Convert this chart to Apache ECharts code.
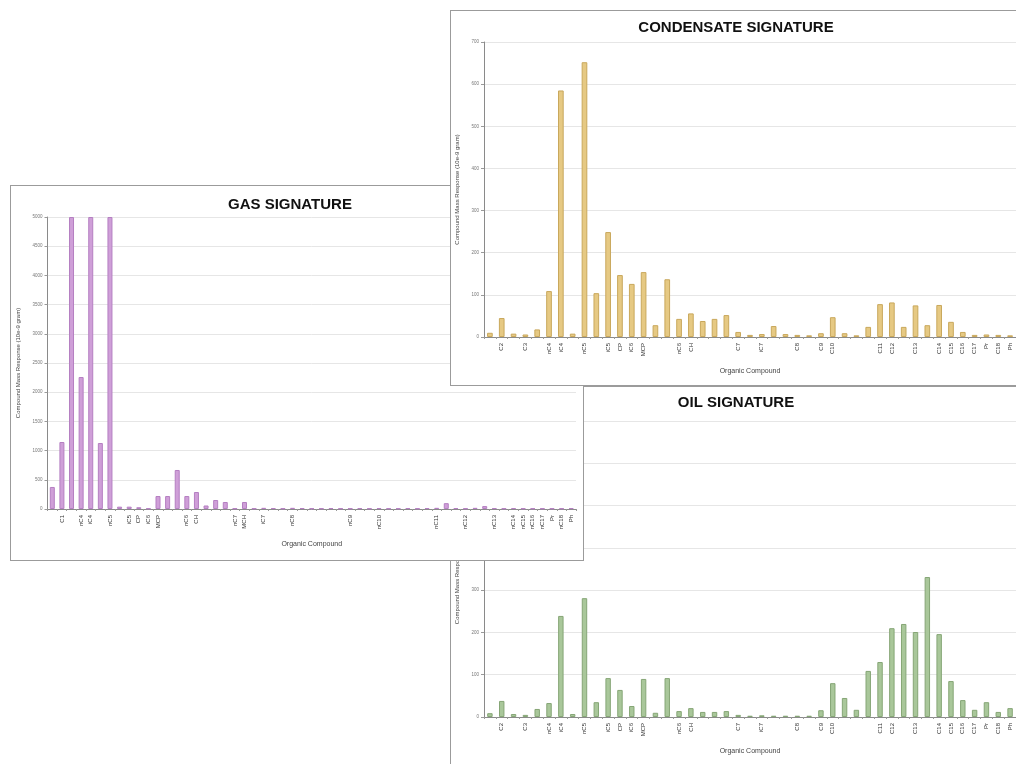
<!DOCTYPE html>
<html>
<head>
<meta charset="utf-8">
<script src="https://cdn.jsdelivr.net/npm/echarts@6/dist/echarts.min.js"></script>
<style>
  html, body { margin: 0; padding: 0; background: #fff; width: 1016px; height: 764px; overflow: hidden; position: relative; }
  .panel { position: absolute; background: #fff; border: 1px solid #9b9b9b; box-sizing: border-box; }
</style>
</head>
<body>
<div id="oil" class="panel" style="left:450px;top:386px;width:572px;height:390px;z-index:1"></div>
<div id="gas" class="panel" style="left:10px;top:185px;width:574px;height:376px;z-index:2"></div>
<div id="cond" class="panel" style="left:450px;top:10px;width:572px;height:376px;z-index:3"></div>
<script>
// Compound names along the x axis ('' = unlabelled compound)
const gasCategories = ['', 'C1', '', 'nC4', 'iC4', '', 'nC5', '', 'iC5', 'CP', 'iC6', 'MCP', '', '', 'nC6', 'CH', '', '', '', 'nC7', 'MCH', '', 'iC7', '', '', 'nC8', '', '', '', '', '', 'nC9', '', '', 'nC10', '', '', '', '', '', 'nC11', '', '', 'nC12', '', '', 'nC13', '', 'nC14', 'nC15', 'nC16', 'nC17', 'Pr', 'nC18', 'Ph'];
const liquidCategories = ['', 'C2', '', 'C3', '', 'nC4', 'iC4', '', 'nC5', '', 'iC5', 'CP', 'iC6', 'MCP', '', '', 'nC6', 'CH', '', '', '', 'C7', '', 'iC7', '', '', 'C8', '', 'C9', 'C10', '', '', '', 'C11', 'C12', '', 'C13', '', 'C14', 'C15', 'C16', 'C17', 'Pr', 'C18', 'Ph'];

// Compound mass response (10e-9 gram)
const gasValues = [377, 1147, 5000, 2260, 5000, 1130, 5000, 40, 40, 30, 10, 222, 222, 668, 222, 291, 60, 154, 120, 10, 120, 10,
  20, 15, 10, 20, 15, 10, 10, 15, 10, 10, 15, 10, 15, 10, 10, 15, 10, 15, 20, 100, 15, 10, 20, 50, 15, 10, 15, 10, 10, 10, 10, 10, 15];
const condensateValues = [10, 45, 8, 6, 18, 109, 585, 8, 652, 104, 249, 147, 126, 154, 28, 137, 43, 56, 38, 43,
  52, 12, 5, 7, 26, 7, 5, 4, 9, 47, 9, 4, 24, 78, 82, 24, 75, 28, 76, 36, 12, 5, 6, 5, 4];
const oilValues = [9, 38, 7, 5, 19, 33, 239, 7, 281, 35, 92, 64, 26, 90, 10, 92, 14, 21, 12, 12,
  14, 5, 3, 4, 3, 3, 3, 3, 16, 80, 45, 17, 109, 130, 210, 220, 201, 331, 196, 85, 40, 17, 35, 12, 21];

const FONT = '"Liberation Sans", Arial, sans-serif';

function signature(id, cfg) {
  const chart = echarts.init(document.getElementById(id), null, { renderer: 'canvas' });
  chart.setOption({
    animation: false,
    title: {
      text: cfg.title, left: cfg.titleLeft, top: cfg.titleTop,
      textStyle: { fontFamily: FONT, fontSize: 15, fontWeight: 'bold', color: '#111' }
    },
    grid: { left: cfg.grid[0], top: cfg.grid[1], width: cfg.grid[2], height: cfg.grid[3], outerBoundsMode: 'none' },
    xAxis: {
      type: 'category', data: cfg.categories,
      name: 'Organic Compound', nameLocation: 'middle', nameGap: cfg.xNameGap,
      nameTextStyle: { fontFamily: FONT, fontSize: 7, color: '#444' },
      axisLine: { lineStyle: { color: '#8a8a8a' } },
      axisTick: { show: true, length: 2, lineStyle: { color: '#9a9a9a' } },
      axisLabel: { interval: 0, rotate: 90, fontFamily: FONT, fontSize: 6, color: '#333', margin: 6 }
    },
    yAxis: {
      type: 'value', min: 0, max: cfg.max, interval: cfg.step,
      name: 'Compound Mass Response (10e-9 gram)', nameLocation: 'middle', nameGap: cfg.yNameGap,
      nameTextStyle: { fontFamily: FONT, fontSize: 6, color: '#444' },
      axisLine: { show: true, lineStyle: { color: '#8a8a8a' } },
      axisTick: { show: true, length: 3, lineStyle: { color: '#9a9a9a' } },
      axisLabel: { fontFamily: FONT, fontSize: 4.5, color: '#777', margin: 5, formatter: v => String(v) },
      splitLine: { lineStyle: { color: '#e6e6e6' } }
    },
    series: [{
      type: 'bar', data: cfg.values, barWidth: cfg.barWidth, silent: true,
      itemStyle: { color: cfg.fill, borderColor: cfg.edge, borderWidth: 1 }
    }]
  });
}

signature('oil', {
  title: 'OIL SIGNATURE', titleLeft: 'center', titleTop: 3, grid: [33, 34, 532, 296],
  categories: liquidCategories, values: oilValues, max: 700, step: 100,
  xNameGap: 31, yNameGap: 15, barWidth: '46%', fill: '#a9c79a', edge: '#86a676'
});
signature('gas', {
  title: 'GAS SIGNATURE', titleLeft: 212, titleTop: 6, grid: [36.5, 31, 528.5, 292],
  categories: gasCategories, values: gasValues, max: 5000, step: 500,
  xNameGap: 32, yNameGap: 19, barWidth: '52%', fill: '#cf9fd8', edge: '#b57fc2'
});
signature('cond', {
  title: 'CONDENSATE SIGNATURE', titleLeft: 'center', titleTop: 4, grid: [33, 31, 532, 295],
  categories: liquidCategories, values: condensateValues, max: 700, step: 100,
  xNameGap: 31, yNameGap: 15, barWidth: '48%', fill: '#e6c983', edge: '#c9a85c'
});
</script>
</body>
</html>
